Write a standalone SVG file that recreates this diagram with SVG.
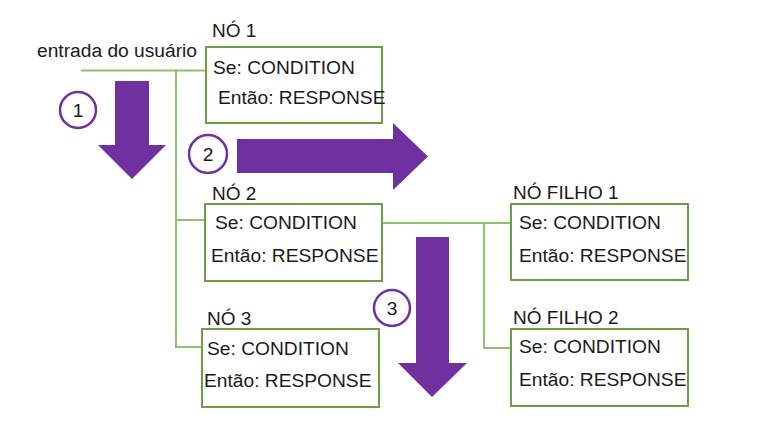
<svg xmlns="http://www.w3.org/2000/svg" width="763" height="436" viewBox="0 0 763 436">
<style>
text{font-family:"Liberation Sans",Arial,sans-serif;font-size:19.2px;fill:#1a1a1a}
.box{fill:#fff;stroke:#6a9f45;stroke-width:2}
.ln{fill:none;stroke:#8cc46b;stroke-width:2}
.arr{fill:#7030a0}
.c{fill:#fff;stroke:#7030a0;stroke-width:2.5}
.lab{font-size:19px}
</style>
<rect width="763" height="436" fill="#fff"/>
<g id="connectors">
<path class="ln" d="M81,70.5H206M176,70.5V347H202M176,220H205"/>
<path class="ln" d="M382,223H511M484,223V348H511"/>
</g>
<g id="step1">
<path class="arr" d="M115,81H149V145H166L132,179L98,145H115Z"/>
<circle class="c" cx="78" cy="110" r="18"/>
<text x="78" y="117" text-anchor="middle">1</text>
</g>
<g id="step2">
<path class="arr" d="M237,139H393V123L428,156.5L393,190V173H237Z"/>
<circle class="c" cx="208" cy="154" r="19"/>
<text x="208" y="161" text-anchor="middle">2</text>
</g>
<g id="step3">
<path class="arr" d="M416,237H449V363H467L432,397L398,363H416Z"/>
<circle class="c" cx="392" cy="308" r="18"/>
<text x="392" y="315" text-anchor="middle">3</text>
</g>
<text x="37" y="57">entrada do usuário</text>
<g id="no1">
<text class="lab" x="212" y="37">NÓ 1</text>
<rect class="box" x="206" y="47" width="176" height="76"/>
<text x="213" y="74">Se: CONDITION</text>
<text x="218" y="104">Então: RESPONSE</text>
</g>
<g id="no2">
<text class="lab" x="212" y="200">NÓ 2</text>
<rect class="box" x="205" y="204" width="177" height="77"/>
<text x="215" y="229">Se: CONDITION</text>
<text x="211" y="262">Então: RESPONSE</text>
</g>
<g id="no3">
<text class="lab" x="207" y="325">NÓ 3</text>
<rect class="box" x="202" y="329" width="177" height="78"/>
<text x="207" y="355">Se: CONDITION</text>
<text x="204" y="387">Então: RESPONSE</text>
</g>
<g id="filho1">
<text class="lab" x="513" y="199">NÓ FILHO 1</text>
<rect class="box" x="511" y="204" width="177" height="76"/>
<text x="519" y="229">Se: CONDITION</text>
<text x="519" y="262">Então: RESPONSE</text>
</g>
<g id="filho2">
<text class="lab" x="513" y="324">NÓ FILHO 2</text>
<rect class="box" x="511" y="329" width="177" height="77"/>
<text x="519" y="353">Se: CONDITION</text>
<text x="519" y="386">Então: RESPONSE</text>
</g>
</svg>
